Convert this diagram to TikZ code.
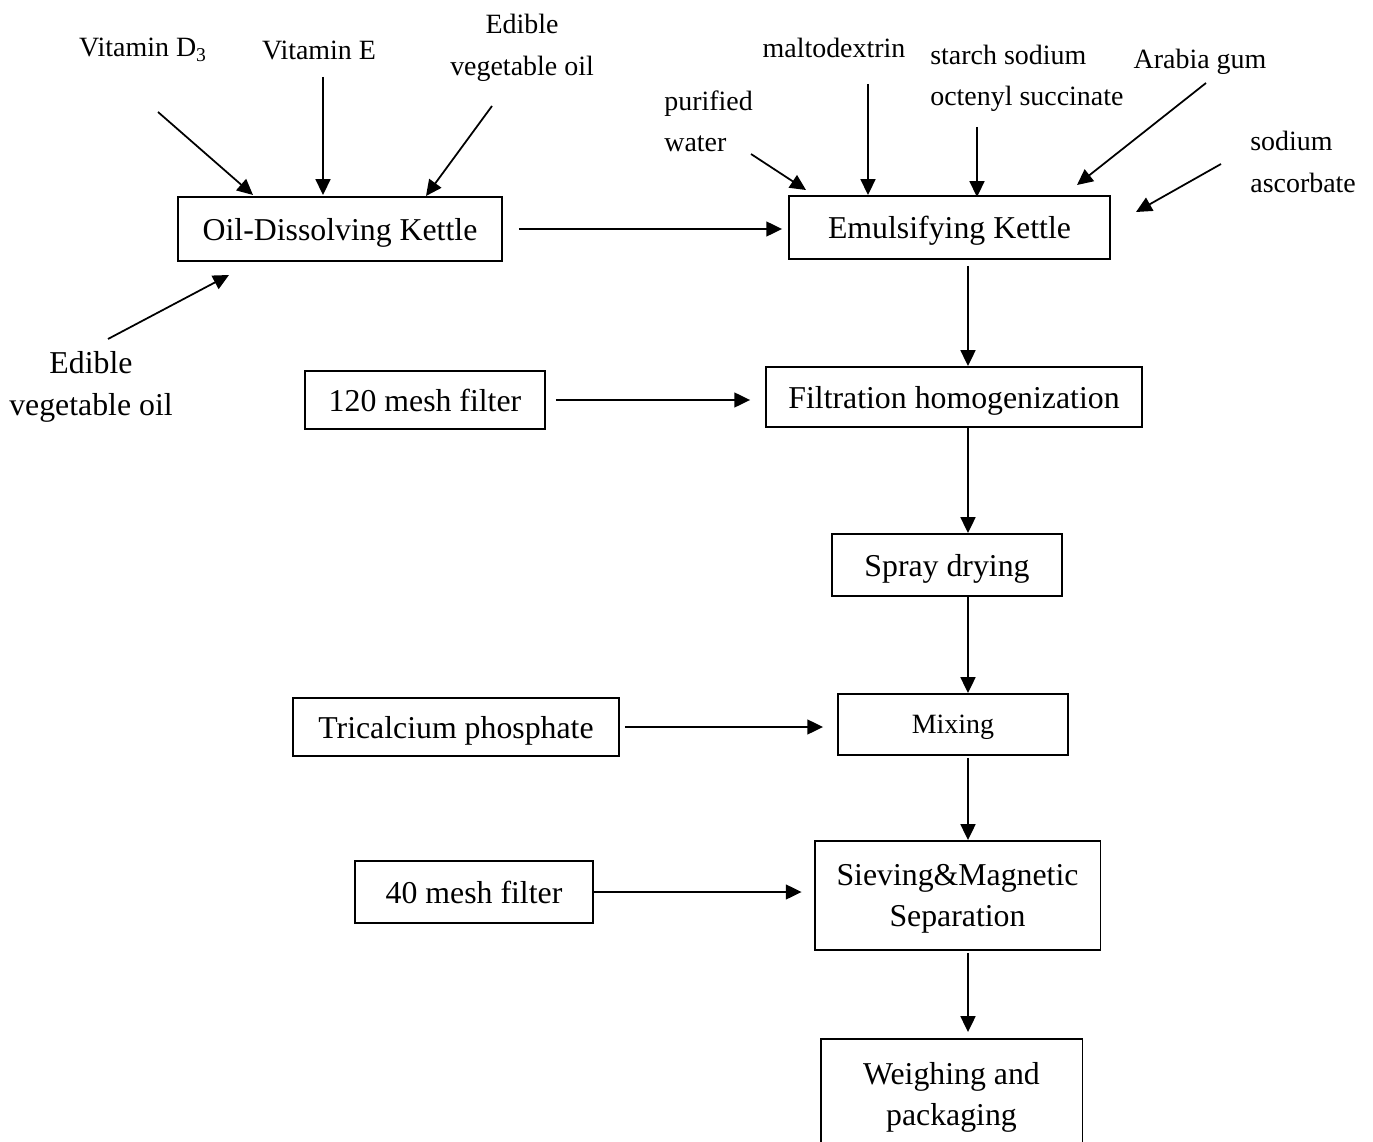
\documentclass[tikz,border=0pt]{standalone}
\usepackage{fontspec}
\setmainfont{Liberation Serif}
\usetikzlibrary{arrows.meta}

\newcommand{\bigtxt}{\fontsize{18.1}{23.6}\selectfont}
\newcommand{\smalltxt}{\fontsize{15.9}{23.6}\selectfont}

\begin{document}
\begin{tikzpicture}[x=0.02cm, y=-0.02cm,
    stage/.style={draw, line width=1.1pt, inner sep=0pt, text depth=0pt, font=\bigtxt, align=center},
    inlabel/.style={font=\smalltxt, inner sep=0pt},
    feed/.style={-{Triangle[length=9pt,width=8.5pt]}, line width=1pt}]
    % Page (pixel grid of the scan)
    \useasboundingbox (0,0) rectangle (1373,1142);
    \clip (0,0) rectangle (1373,1142);

    % Process stages
    \node[stage, minimum width=6.48cm, minimum height=1.28cm] (oil) at (340,229) {Oil-Dissolving Kettle};
    \node[stage, minimum width=6.42cm, minimum height=1.26cm] (emul) at (949.5,227.5) {Emulsifying Kettle};
    \node[stage, minimum width=4.8cm, minimum height=1.16cm] (mesh120) at (425,400) {120 mesh filter};
    \node[stage, minimum width=7.52cm, minimum height=1.2cm] (filt) at (954,397) {Filtration homogenization};
    \node[stage, minimum width=4.6cm, minimum height=1.24cm] (spray) at (947,565) {Spray drying};
    \node[stage, minimum width=4.6cm, minimum height=1.22cm, font=\smalltxt] (mix) at (953,724.5) {Mixing};
    \node[stage, minimum width=6.52cm, minimum height=1.16cm] (trical) at (456,727) {Tricalcium phosphate};
    \node[stage, minimum width=5.72cm, minimum height=2.18cm] (sieve) at (957.5,895.5) {Sieving\&Magnetic\\Separation};
    \node[stage, minimum width=4.76cm, minimum height=1.24cm] (mesh40) at (474,892) {40 mesh filter};
    \node[stage, minimum width=5.24cm, minimum height=2.2cm] (weigh) at (951.5,1094) {Weighing and\\packaging};

    % Raw materials
    \node[inlabel] (vitD) at (143,50) {Vitamin D\textsubscript{3}};
    \node[inlabel] (vitE) at (319,50) {Vitamin E};
    \node[inlabel, align=center] (oilTop) at (522,48) {Edible\\vegetable oil};
    \node[font=\bigtxt, inner sep=0pt, align=center] (oilLow) at (91,387) {Edible\\vegetable oil};
    \node[inlabel, align=left, anchor=west] (water) at (664,121.5) {purified\\water};
    \node[inlabel] (malto) at (834,48) {maltodextrin};
    \node[inlabel, align=left, anchor=west] (osa) at (930,78.5) {starch sodium\\octenyl succinate};
    \node[inlabel] (gum) at (1200,61.5) {Arabia gum};
    \node[inlabel, align=left, anchor=west] (ascorb) at (1250,162) {sodium\\ascorbate};

    % Feed arrows of the raw materials
    \foreach \n/\xa/\ya/\xb/\yb in {vitD/158/112/253/195, vitE/323/77/323/195,
        oilTop/492/106/426/196, oilLow/108/339/229/275, water/751/154/806/190,
        malto/868/84/868/195, osa/977/127/977/197, gum/1206/83/1077/185,
        ascorb/1221/164/1136/212}{
      \coordinate (\n-tail) at (\xa,\ya);
      \coordinate (\n-head) at (\xb,\yb);
      \draw[feed] (\n-tail) -- (\n-head);
    }

    % Main line
    \coordinate (spine) at (968,0);
    \draw[feed, shorten <=3.2mm, shorten >=1.2mm] (oil.east) -- (oil.east -| emul.west);
    \draw[feed, shorten <=1.2mm] (spine |- emul.south) -- (spine |- filt.north);
    \draw[feed] (spine |- filt.south) -- (spine |- spray.north);
    \draw[feed] (spine |- spray.south) -- (spine |- mix.north);
    \draw[feed, shorten <=0.4mm] (spine |- mix.south) -- (spine |- sieve.north);
    \draw[feed, shorten <=0.4mm, shorten >=1.2mm] (spine |- sieve.south) -- (spine |- weigh.north);

    % Side inputs
    \draw[feed, shorten <=2mm, shorten >=3mm] (mesh120.east) -- (mesh120.east -| filt.west);
    \draw[feed, shorten <=1mm, shorten >=2.8mm] (trical.east) -- (trical.east -| mix.west);
    \draw[feed, shorten >=2.4mm] (mesh40.east) -- (mesh40.east -| sieve.west);
\end{tikzpicture}
\end{document}
